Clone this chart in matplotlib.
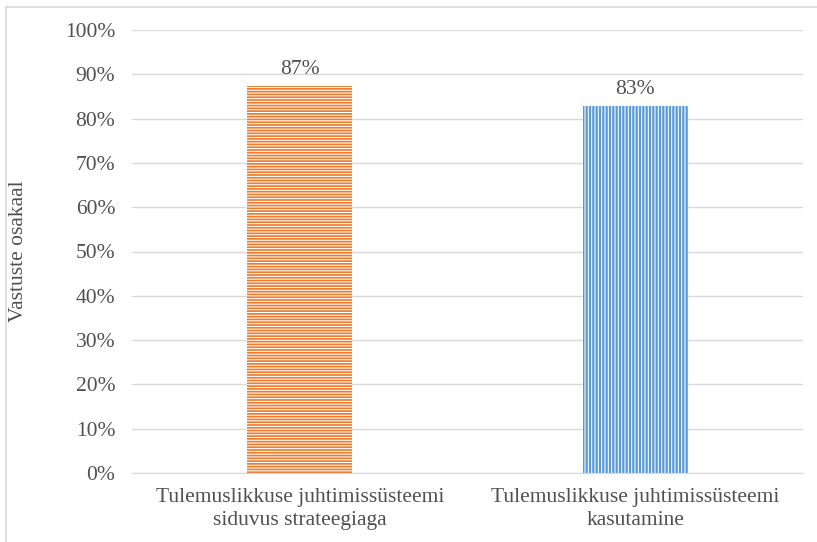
import matplotlib
matplotlib.use("Agg")
import matplotlib.pyplot as plt
from matplotlib.lines import Line2D
from matplotlib.ticker import PercentFormatter

categories = ["Tulemuslikkuse juhtimissüsteemi\nsiduvus strateegiaga",
              "Tulemuslikkuse juhtimissüsteemi\nkasutamine"]
values = [87.4, 82.8]
labels = ["87%", "83%"]
yticks = [0, 10, 20, 30, 40, 50, 60, 70, 80, 90, 100]
colors = ["#ED7D31", "#5B9BD5"]
hatches = ["------", "|||||"]

plt.rcParams['font.family'] = ['Liberation Serif', 'DejaVu Serif']
plt.rcParams['hatch.linewidth'] = 0.75
plt.rcParams['hatch.color'] = 'white'

txt = '#505050'
fs = 15.5

fig = plt.figure(figsize=(8.17, 5.42), dpi=100)
ax = fig.add_axes([132/817, 1-473/542, (803-132)/817, (473-30)/542])

x = list(range(len(categories)))
for i in x:
    ax.bar(i, values[i], width=0.313, color=colors[i], hatch=hatches[i],
           edgecolor='white', linewidth=0, zorder=3)
    ax.text(i, values[i] + 1.6, labels[i], ha='center', va='bottom',
            fontsize=fs, color=txt)

ax.set_xlim(-0.5, 1.5)
ax.set_ylim(0, 100)
ax.set_yticks(yticks)
ax.yaxis.set_major_formatter(PercentFormatter(decimals=0))
ax.set_xticks(x)
ax.set_xticklabels(categories, fontsize=fs, color=txt, linespacing=1.3)
ax.tick_params(axis='y', labelsize=fs, labelcolor=txt, length=0, pad=12)
ax.tick_params(axis='x', length=0, pad=11)
ax.grid(axis='y', color='#D9D9D9', linewidth=1, zorder=0)
for s in ['top', 'right', 'left']:
    ax.spines[s].set_visible(False)
ax.spines['bottom'].set_color('#D9D9D9')
ax.spines['bottom'].set_zorder(4)
fig.text(19/817, 1-251/542, "Vastuste osakaal", rotation=90, ha='center',
         va='center', fontsize=fs, color=txt)

# outer frame lines
fig.add_artist(Line2D([6/817, 6/817], [0, 1-7/542], color='#D9D9D9', lw=1.2, transform=fig.transFigure))
fig.add_artist(Line2D([6/817, 1], [1-7/542, 1-7/542], color='#D9D9D9', lw=1.2, transform=fig.transFigure))

fig.savefig("out.png", dpi=100)
